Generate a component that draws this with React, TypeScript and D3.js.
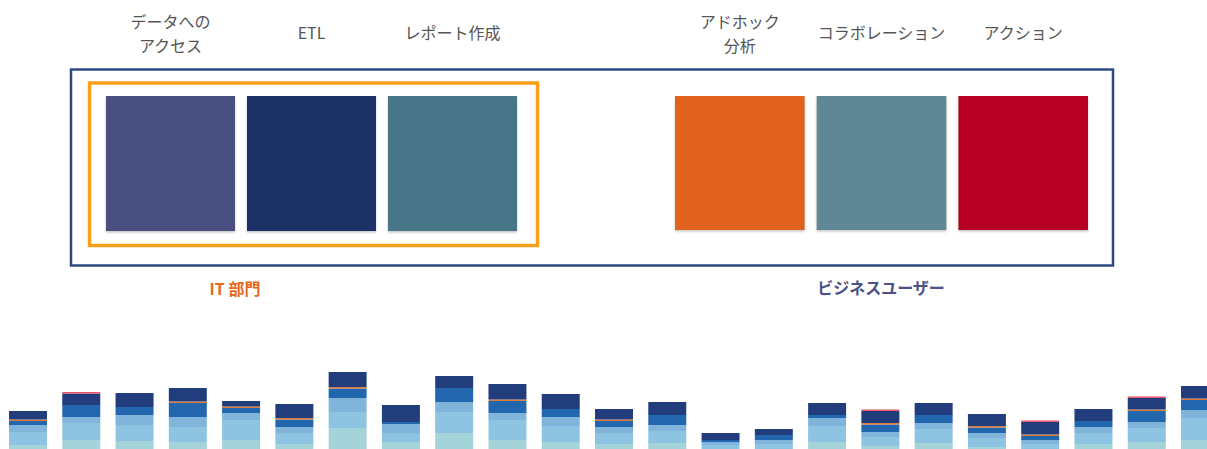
import React from "react";
import * as d3 from "d3";

// ---- Data ----
const itLabels: string[][] = [["データへの", "アクセス"], ["ETL"], ["レポート作成"]];
const itColors = ["#4a4f80", "#1a3066", "#4a7489"];
const bizLabels: string[][] = [["アドホック", "分析"], ["コラボレーション"], ["アクション"]];
const bizColors = ["#e0621a", "#5e8796", "#b80024"];
const groupLabels = ["IT 部門", "ビジネスユーザー"];

// stacked strip at the bottom (heights, bottom-up)
const stackKeys = ["pale", "light", "medium", "blue", "orange", "navy", "red"];
const stackColors = ["#a4d3da", "#8cc4e2", "#80b4da", "#2466ad", "#e07b39", "#223d7c", "#ee5566"];
const pale = [4, 9, 8, 7, 9, 5, 21, 7, 16, 9, 7, 5, 6, 0, 0, 7, 3, 6, 2, 0, 5, 7, 9];
const light = [13, 17, 16, 15, 20, 11, 16, 9, 21, 20, 16, 11, 12, 4, 5, 16, 9, 14, 9, 5, 11, 14, 22];
const medium = [7, 6, 10, 10, 7, 6, 14, 9, 10, 7, 9, 6, 6, 3, 4, 8, 5, 6, 5, 4, 6, 6, 8];
const blue = [4, 12, 8, 14, 5, 7.5, 9.5, 2, 14, 12, 8, 6, 10, 2, 5, 3, 7.5, 8, 5.5, 4, 6, 11, 10];
const orange = [1.5, 0, 0, 1.5, 1.5, 1.5, 1.5, 0, 0, 1.5, 0, 1.5, 0, 0, 0, 0, 1.5, 0, 1.5, 1.5, 0, 1.5, 1.5];
const navy = [8.5, 11.5, 14, 13.5, 5.5, 14, 15, 17, 12, 15.5, 15, 10.5, 13, 7, 6, 12, 12, 12, 12, 12.5, 12, 11.5, 12.5];
const red = [0, 1.5, 0, 0, 0, 0, 0, 0, 0, 0, 0, 0, 0, 0, 0, 0, 1.5, 0, 0, 1.5, 0, 1.5, 0];

const W = 1207;
const H = 449;

export default function App() {
  const rows = pale.map((_, i) => ({
    i,
    pale: pale[i],
    light: light[i],
    medium: medium[i],
    blue: blue[i],
    orange: orange[i],
    navy: navy[i],
    red: red[i],
  }));
  const series = d3.stack<any>().keys(stackKeys)(rows);

  const x = d3
    .scaleBand<number>()
    .domain(rows.map((r) => r.i))
    .range([9, 1219])
    .paddingInner(0.287)
    .paddingOuter(0);
  const y = d3.scaleLinear().domain([0, 100]).range([H, H - 100]);

  const sqIT = d3.scaleBand<number>().domain([0, 1, 2]).range([106, 517]).paddingInner(0.085);
  const sqBiz = d3.scaleBand<number>().domain([0, 1, 2]).range([675, 1088]).paddingInner(0.085);

  const font = "'Noto Sans CJK JP', 'Noto Sans', sans-serif";

  const renderLabel = (lines: string[], cx: number, key: string) => {
    const lh = 24;
    const baseY = lines.length === 1 ? 39 : 28;
    return (
      <text key={key} x={cx} textAnchor="middle" fontSize={16} fill="#555555" fontFamily={font}>
        {lines.map((l, j) => (
          <tspan key={j} x={cx} y={baseY + j * lh}>
            {l}
          </tspan>
        ))}
      </text>
    );
  };

  return (
    <svg
      width={W}
      height={H}
      style={{ position: "absolute", left: 0, top: 0, display: "block" }}
      xmlns="http://www.w3.org/2000/svg"
    >
      <defs>
        <filter id="soft" x="-5%" y="-5%" width="110%" height="110%">
          <feGaussianBlur stdDeviation="0.6" />
        </filter>
        <filter id="shadow" x="-5%" y="-5%" width="110%" height="115%">
          <feDropShadow dx="0" dy="1.5" stdDeviation="1" floodColor="#888" floodOpacity="0.5" />
        </filter>
      </defs>
      <rect x={0} y={0} width={W} height={H} fill="#ffffff" />

      {/* labels */}
      {itLabels.map((lines, i) => renderLabel(lines, sqIT(i)! + sqIT.bandwidth() / 2, "it" + i))}
      {bizLabels.map((lines, i) => renderLabel(lines, sqBiz(i)! + sqBiz.bandwidth() / 2, "bz" + i))}

      {/* outer frame */}
      <rect x={71} y={69.5} width={1042} height={196} fill="#ffffff" stroke="#2f4a80" strokeWidth={2.5} />
      {/* IT frame */}
      <rect x={89.5} y={83} width={448} height={162.5} fill="none" stroke="#f8a01a" strokeWidth={3.5} />

      {itColors.map((c, i) => (
        <rect key={"sqi" + i} x={sqIT(i)} y={96} width={sqIT.bandwidth()} height={135} fill={c} filter="url(#shadow)" />
      ))}
      {bizColors.map((c, i) => (
        <rect key={"sqb" + i} x={sqBiz(i)} y={96} width={sqBiz.bandwidth()} height={134} fill={c} filter="url(#shadow)" />
      ))}

      <text x={235} y={295} textAnchor="middle" fontSize={16} fontWeight="bold" fill="#e8681e" fontFamily={font}>
        {groupLabels[0]}
      </text>
      <text x={881} y={294} textAnchor="middle" fontSize={16} fontWeight="bold" fill="#4b5285" fontFamily={font}>
        {groupLabels[1]}
      </text>

      {/* bottom stacked strip */}
      <g filter="url(#soft)">
        {series.map((s, k) => (
          <g key={s.key} fill={stackColors[k]}>
            {s.map((d: any, i: number) =>
              d[1] - d[0] > 0 ? (
                <rect
                  key={i}
                  x={x(i)}
                  y={y(d[1])}
                  width={x.bandwidth()}
                  height={y(d[0]) - y(d[1])}
                />
              ) : null
            )}
          </g>
        ))}
      </g>
    </svg>
  );
}
